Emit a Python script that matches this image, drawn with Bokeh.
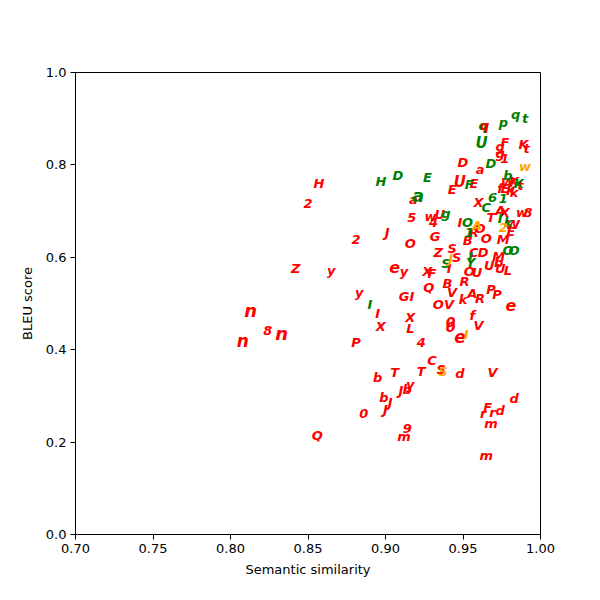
from bokeh.plotting import figure
from bokeh.models import ColumnDataSource, FixedTicker
from bokeh.core.properties import value
from bokeh.embed import file_html
from bokeh.resources import INLINE

# ---- data (semantic similarity, BLEU score, label) ----
red_labels = ["H","2","Z","y","n","8","n","n","Q","2","y","P","0","a","5","J","O","e","y","G",
              "I","I","X","X","L","4","b","T","b","J","J","J","b","y","9","m","T","C","S","d",
              "V","d","F","r","r","d","m","m","0","V","e","f","O","V","Q","B","V","k","A","R",
              "R","P","P","e","X","F","Z","S","S","I","G","w","U","4","D","a","U","E","E","q",
              "g","F","g","1","K","t","X","f","E","W","K","K","k","t","A","X","T","w","8","W",
              "E","M","I","O","R","O","B","C","D","M","U","b","U","L","O","U","0"]
red_x = [0.857,0.850,0.842,0.865,0.813,0.824,0.833,0.808,0.856,0.881,0.883,0.881,0.886,0.918,0.917,0.901,0.916,0.906,0.912,0.912,
         0.917,0.895,0.897,0.916,0.916,0.923,0.895,0.906,0.899,0.903,0.900,0.910,0.914,0.916,0.914,0.912,0.923,0.930,0.936,0.948,
         0.969,0.983,0.966,0.963,0.969,0.974,0.968,0.965,0.942,0.960,0.948,0.956,0.934,0.941,0.928,0.940,0.943,0.950,0.956,0.961,
         0.951,0.968,0.972,0.981,0.927,0.930,0.934,0.943,0.946,0.941,0.932,0.929,0.935,0.931,0.950,0.961,0.948,0.943,0.957,0.964,
         0.974,0.977,0.974,0.977,0.989,0.991,0.960,0.974,0.977,0.979,0.983,0.981,0.983,0.987,0.974,0.977,0.968,0.988,0.992,0.982,
         0.981,0.976,0.948,0.961,0.957,0.965,0.953,0.957,0.963,0.973,0.967,0.973,0.974,0.979,0.954,0.959,0.942]
red_y = [0.760,0.716,0.576,0.571,0.485,0.442,0.435,0.418,0.214,0.639,0.524,0.416,0.262,0.725,0.686,0.654,0.630,0.578,0.569,0.515,
         0.515,0.478,0.450,0.470,0.446,0.416,0.340,0.351,0.297,0.286,0.271,0.312,0.314,0.325,0.229,0.212,0.353,0.377,0.357,0.348,
         0.351,0.294,0.275,0.262,0.264,0.268,0.240,0.171,0.460,0.452,0.429,0.474,0.498,0.498,0.535,0.543,0.524,0.509,0.522,0.511,
         0.548,0.530,0.519,0.496,0.569,0.565,0.610,0.619,0.600,0.576,0.645,0.688,0.693,0.675,0.805,0.790,0.764,0.747,0.760,0.885,
         0.840,0.848,0.825,0.814,0.844,0.835,0.719,0.749,0.749,0.762,0.764,0.745,0.740,0.755,0.701,0.697,0.686,0.697,0.697,0.671,
         0.656,0.639,0.675,0.662,0.654,0.641,0.636,0.610,0.610,0.602,0.582,0.589,0.576,0.571,0.569,0.567,0.450]

green_labels = ["q","H","D","a","E","I","g","S","O","1","I","Y","O","O","I","k","C","6","1","b",
                "K","F","D","U","p","q","t"]
green_x = [0.963,0.897,0.908,0.921,0.927,0.890,0.939,0.939,0.953,0.954,0.955,0.955,0.979,0.983,0.974,0.979,0.965,0.969,0.976,0.979,
           0.986,0.954,0.968,0.962,0.976,0.984,0.990]
green_y = [0.885,0.764,0.777,0.734,0.773,0.498,0.695,0.587,0.675,0.654,0.602,0.589,0.615,0.615,0.684,0.675,0.708,0.729,0.727,0.777,
           0.760,0.758,0.803,0.848,0.892,0.909,0.900]

orange_labels = ["w","S","I","A","2","J"]
orange_x = [0.990,0.937,0.952,0.959,0.976,0.942]
orange_y = [0.797,0.353,0.433,0.669,0.665,0.597]

x_ticks = [0.70, 0.75, 0.80, 0.85, 0.90, 0.95, 1.00]
y_ticks = [0.0, 0.2, 0.4, 0.6, 0.8, 1.0]

# ---- styles: per-label font sizes (px) ----
big_red = {4: "18px", 6: "18px", 7: "17px", 17: "16px", 48: "14px", 50: "17px", 63: "16px", 76: "15px", 116: "14px"}
red_fs = [big_red.get(i, "13px") for i in range(len(red_labels))]
big_green = {3: "18px", 23: "15px"}
green_fs = [big_green.get(i, "13px") for i in range(len(green_labels))]
orange_fs = ["13px"] * len(orange_labels)

p = figure(width=600, height=600, frame_width=465, frame_height=462,
           x_range=(0.70, 1.00), y_range=(0.0, 1.0),
           output_backend="svg", toolbar_location=None,
           min_border_left=75, min_border_right=60, min_border_top=72, min_border_bottom=66)
p.grid.visible = False
p.outline_line_color = "black"
p.outline_line_alpha = 1.0
p.outline_line_width = 1
p.background_fill_color = "white"
p.border_fill_color = "white"

for ax in (p.xaxis[0], p.yaxis[0]):
    ax.axis_line_color = "black"
    ax.major_tick_line_color = "black"
    ax.minor_tick_line_color = None
    ax.major_tick_out = 5
    ax.major_tick_in = 0
    ax.major_label_text_font = "DejaVu Sans"
    ax.major_label_text_font_size = "13px"
    ax.major_label_text_color = "black"
    ax.axis_label_text_font = "DejaVu Sans"
    ax.axis_label_text_font_size = "13px"
    ax.axis_label_text_font_style = "normal"
    ax.axis_label_text_color = "black"
    ax.major_label_standoff = 4

p.xaxis.ticker = FixedTicker(ticks=x_ticks)
p.yaxis.ticker = FixedTicker(ticks=y_ticks)
p.xaxis.major_label_overrides = {t: f"{t:.2f}" for t in x_ticks}
p.yaxis.major_label_overrides = {t: f"{t:.1f}" for t in y_ticks}
p.xaxis.axis_label = "Semantic similarity"
p.yaxis.axis_label = "BLEU score"
p.xaxis.axis_label_standoff = 6
p.yaxis.axis_label_standoff = 8

def draw(xs, ys, labels, sizes, color):
    src = ColumnDataSource(dict(x=xs, y=ys, t=labels, fs=sizes))
    p.text(x="x", y="y", text="t", source=src, text_color=color,
           text_font=value("DejaVu Sans"), text_font_style="bold italic",
           text_font_size="fs", text_align="center", text_baseline="middle")

draw(green_x[:1], green_y[:1], green_labels[:1], green_fs[:1], "green")
draw(red_x, red_y, red_labels, red_fs, "red")
draw(green_x[1:], green_y[1:], green_labels[1:], green_fs[1:], "green")
draw(orange_x, orange_y, orange_labels, orange_fs, "orange")

open("out.html", "w").write(file_html(p, INLINE))
